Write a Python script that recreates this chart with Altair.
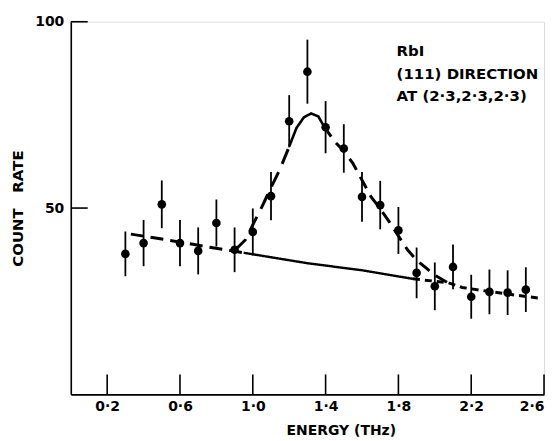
import altair as alt
import pandas as pd

# Measured data points (energy in THz, count rate, error half-length)
energy = [0.3, 0.4, 0.5, 0.6, 0.7, 0.8, 0.9, 1.0, 1.1, 1.2, 1.3, 1.4,
          1.5, 1.6, 1.7, 1.8, 1.9, 2.0, 2.1, 2.2, 2.3, 2.4, 2.5]
counts = [37.7, 40.6, 51.0, 40.6, 38.5, 46.0, 38.8, 43.6, 53.2, 73.3, 86.6, 71.7,
          66.0, 53.0, 50.8, 44.0, 32.6, 29.0, 34.2, 26.2, 27.5, 27.3, 28.1]
errors = [6.0, 6.2, 6.4, 6.2, 6.3, 6.3, 6.0, 6.3, 6.5, 7.0, 8.6, 7.0,
          6.5, 6.7, 6.5, 6.3, 6.8, 6.4, 6.0, 5.9, 6.0, 6.0, 6.0]

# Fitted curve pieces
bg_left_E = [0.33, 0.5, 0.75, 0.95]
bg_left_C = [43.0, 41.7, 39.6, 38.0]
bg_solid_E = [0.95, 1.3, 1.6, 1.88]
bg_solid_C = [38.0, 35.2, 33.3, 31.0]
rise_E = [0.90, 0.96, 1.0, 1.05, 1.1, 1.15, 1.2]
rise_C = [38.6, 41.5, 45.5, 50.3, 55.5, 60.5, 66.5]
arc_E = [1.2, 1.24, 1.28, 1.32, 1.36, 1.39]
arc_C = [66.5, 71.5, 74.3, 75.4, 74.6, 72.0]
fall_E = [1.39, 1.45, 1.5, 1.55, 1.6, 1.65, 1.7, 1.75, 1.8, 1.85, 1.9, 1.95, 2.0, 2.07]
fall_C = [72.0, 67.8, 65.3, 62.0, 57.5, 53.0, 49.8, 46.3, 42.5, 38.8, 36.0, 34.0, 32.0, 30.0]
tail_E = [1.88, 2.07, 2.15, 2.3, 2.45, 2.58]
tail_C = [31.0, 30.0, 28.7, 27.6, 26.6, 25.8]

x_ticks = [0.2, 0.6, 1.0, 1.4, 1.8, 2.2, 2.6]
y_ticks = [50, 100]

label_lines = ["RbI", "(111) DIRECTION", "AT (2·3,2·3,2·3)"]
label_E = [1.79, 1.79, 1.79]
label_C = [92.2, 86.1, 80.2]

FONT = "DejaVu Sans"

xs = alt.Scale(domain=[0, 2.6], nice=False, zero=False)
ys = alt.Scale(domain=[0, 100], nice=False)

pts = pd.DataFrame({"E": energy, "C": counts, "err": errors})
pts["lo"] = pts["C"] - pts["err"]
pts["hi"] = pts["C"] + pts["err"]

X = alt.X("E:Q", scale=xs, axis=alt.Axis(
    values=x_ticks, ticks=False, grid=False, domainWidth=1.6, domainColor="black",
    labelExpr="replace(format(datum.value, '.1f'), '.', '·')",
    labelFont=FONT, labelFontSize=14, labelFontWeight="bold", labelColor="black",
    labelPadding=5, title="ENERGY (THz)", titleFont=FONT, titleFontSize=14,
    titleFontWeight="bold", titleColor="black", titleX=271, titleY=36,
    titleBaseline="middle", titleAnchor="middle"))
Y = alt.Y("C:Q", scale=ys, axis=alt.Axis(
    values=y_ticks, ticks=False, grid=False, domainWidth=1.6, domainColor="black",
    labelFont=FONT, labelFontSize=14, labelFontWeight="bold", labelColor="black",
    labelPadding=7, title="COUNT\u00a0\u00a0\u00a0RATE", titleFont=FONT, titleFontSize=15,
    titleFontWeight="bold", titleColor="black", titleX=-53, titleY=187,
    titleAngle=-90, titleBaseline="middle", titleAnchor="middle"))

base_pts = alt.Chart(pts)
bars = base_pts.mark_rule(color="black", strokeWidth=1.8).encode(
    x=alt.X("E:Q", scale=xs), y=alt.Y("lo:Q", scale=ys), y2="hi:Q")
dots = base_pts.mark_circle(color="black", opacity=1, size=75).encode(x=X, y=Y)


def seg(Es, Cs, dash, width):
    df = pd.DataFrame({"E": Es, "C": Cs, "i": range(len(Es))})
    m = alt.Chart(df).mark_line(color="black", strokeWidth=width, strokeDash=dash,
                                strokeCap="butt")
    return m.encode(x=alt.X("E:Q", scale=xs), y=alt.Y("C:Q", scale=ys), order="i:Q")


lines = [
    seg(bg_left_E, bg_left_C, [13, 7], 3),
    seg(bg_solid_E, bg_solid_C, [1, 0], 2.4),
    seg(rise_E, rise_C, [16, 9], 3),
    seg(arc_E, arc_C, [1, 0], 2.6),
    seg(fall_E, fall_C, [13, 8], 3),
    seg(tail_E, tail_C, [7, 5], 3),
]

xt = alt.Chart(pd.DataFrame({"E": x_ticks})).mark_rule(color="black", strokeWidth=1.6).encode(
    x=alt.X("E:Q", scale=xs), y=alt.value(374), y2=alt.value(354))
yt = alt.Chart(pd.DataFrame({"C": y_ticks})).mark_rule(color="black", strokeWidth=1.6).encode(
    y=alt.Y("C:Q", scale=ys), x=alt.value(0), x2=alt.value(17))

labels = alt.Chart(pd.DataFrame({"E": label_E, "C": label_C, "t": label_lines})).mark_text(
    align="left", baseline="middle", font=FONT, fontSize=15, fontWeight="bold", color="black"
).encode(x=alt.X("E:Q", scale=xs), y=alt.Y("C:Q", scale=ys), text="t:N")

chart = alt.layer(dots, bars, *lines, xt, yt, labels).properties(
    width=475, height=374, autosize="none",
    padding={"left": 63, "top": 13, "right": 8, "bottom": 46},
).configure_view(stroke=None).configure(background="white")

chart.save("out.html", embed_options={"renderer": "svg", "actions": False})
